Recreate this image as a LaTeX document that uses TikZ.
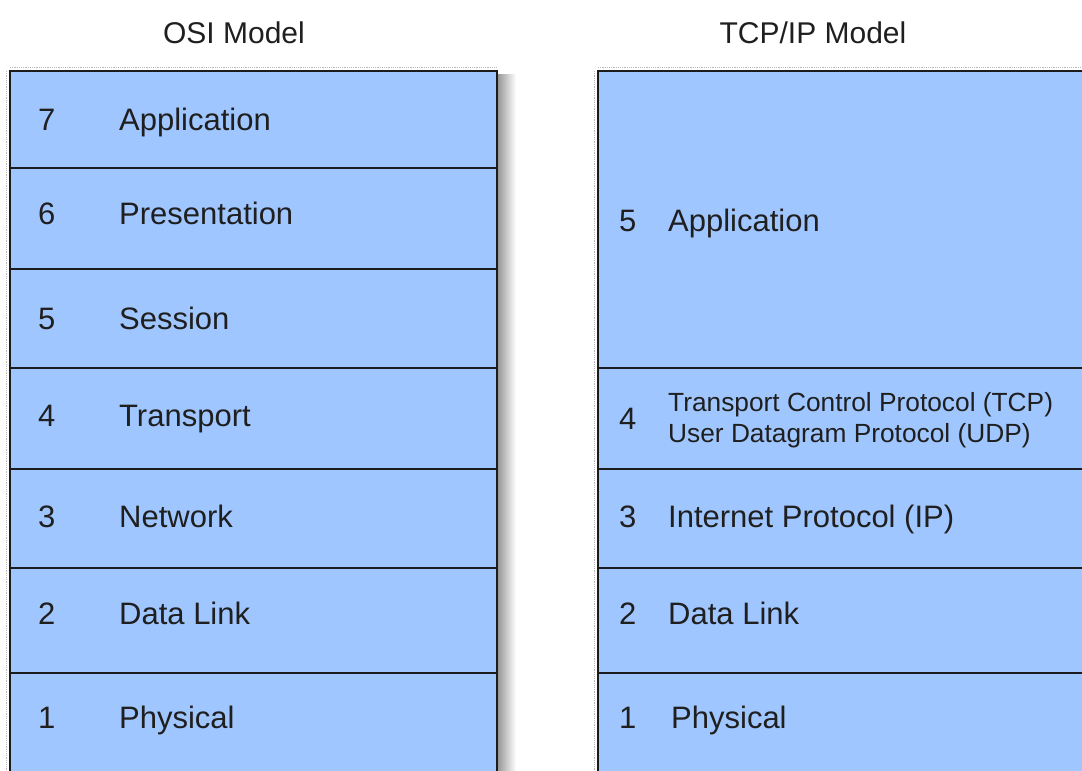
\documentclass[tikz,border=0pt]{standalone}
\usepackage{fontspec}
\setmainfont{Liberation Sans}
\definecolor{layerfill}{RGB}{160,198,255}
\definecolor{edge}{RGB}{28,28,30}
\begin{document}
\begin{tikzpicture}[x=1pt,y=-1pt,
  layer/.style={fill=layerfill,draw=edge,line width=2.8pt},
  sep/.style={draw=edge,line width=2.8pt},
  halo/.style={draw=gray!55,densely dotted,line width=1.2pt},
  lbl/.style={anchor=base west,inner sep=0pt,font=\fontsize{31}{37}\selectfont,text=black!88},
  small/.style={anchor=base west,inner sep=0pt,font=\fontsize{26.3}{31}\selectfont,text=black!88},
  title/.style={anchor=base,inner sep=0pt,font=\fontsize{30}{36}\selectfont,text=black!88}]
\useasboundingbox (0,0) rectangle (1082,771);
\clip (0,0) rectangle (1082,771);
% titles
\node[title] (osititle) at (234,43) {OSI Model};
\node[title] (tcptitle) at (813,43) {TCP/IP Model};
% shadow / halo of left table
\shade[left color=gray!80,right color=white] (498,74) rectangle (516,780);
\draw[halo] (10,67.5) -- (497,67.5);
\draw[halo] (6.5,71) -- (6.5,780);
% halo of right table
\draw[halo] (598,67.5) -- (1082,67.5);
\draw[halo] (594.5,71) -- (594.5,780);
% left table
\path[layer] (10,71) rectangle (497,790);
\foreach \yy in {168,269,368,469,568,673}{\draw[sep] (10,\yy) -- (497,\yy);}
% right table
\path[layer] (598,71) rectangle (1095,790);
\foreach \yy in {368,469,568,673}{\draw[sep] (598,\yy) -- (1095,\yy);}
% OSI labels
\node[lbl] (n7) at (38,130) {7};   \node[lbl] (l7) at (119,130) {Application};
\node[lbl] (n6) at (38,224) {6};   \node[lbl] (l6) at (119,224) {Presentation};
\node[lbl] (n5) at (38,329) {5};   \node[lbl] (l5) at (119,329) {Session};
\node[lbl] (n4) at (38,426) {4};   \node[lbl] (l4) at (119,426) {Transport};
\node[lbl] (n3) at (38,527) {3};   \node[lbl] (l3) at (119,527) {Network};
\node[lbl] (n2) at (38,624) {2};   \node[lbl] (l2) at (119,624) {Data Link};
\node[lbl] (n1) at (38,728) {1};   \node[lbl] (l1) at (119,728) {Physical};
% TCP/IP labels
\node[lbl] (t5) at (619,231) {5};  \node[lbl] (m5) at (668,231) {Application};
\node[lbl] (t4) at (619,429) {4};
\node[small] (m4a) at (668,411) {Transport Control Protocol (TCP)};
\node[small] (m4b) at (668,442) {User Datagram Protocol (UDP)};
\node[lbl] (t3) at (619,527) {3};  \node[lbl] (m3) at (668,527) {Internet Protocol (IP)};
\node[lbl] (t2) at (619,624) {2};  \node[lbl] (m2) at (668,624) {Data Link};
\node[lbl] (t1) at (619,728) {1};  \node[lbl] (m1) at (671,728) {Physical};
\end{tikzpicture}
\end{document}
